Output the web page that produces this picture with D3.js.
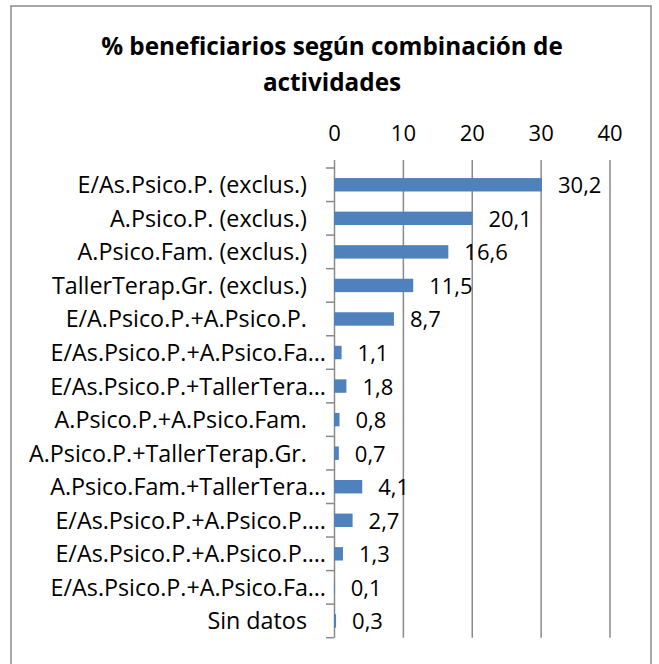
<!DOCTYPE html>
<html><head><meta charset="utf-8">
<script src="https://cdn.jsdelivr.net/npm/d3@7"></script>
<style>body{margin:0;background:#fff}</style>
</head><body>
<script>
const categories = [
  "E/As.Psico.P. (exclus.)",
  "A.Psico.P. (exclus.)",
  "A.Psico.Fam. (exclus.)",
  "TallerTerap.Gr. (exclus.)",
  "E/A.Psico.P.+A.Psico.P.",
  "E/As.Psico.P.+A.Psico.Fa…",
  "E/As.Psico.P.+TallerTera…",
  "A.Psico.P.+A.Psico.Fam.",
  "A.Psico.P.+TallerTerap.Gr.",
  "A.Psico.Fam.+TallerTera…",
  "E/As.Psico.P.+A.Psico.P.…",
  "E/As.Psico.P.+A.Psico.P.…",
  "E/As.Psico.P.+A.Psico.Fa…",
  "Sin datos"
];
const values = [30.2, 20.1, 16.6, 11.5, 8.7, 1.1, 1.8, 0.8, 0.7, 4.1, 2.7, 1.3, 0.1, 0.3];
const xTicks = [0, 10, 20, 30, 40];
const titleLines = ["% beneficiarios según combinación de", "actividades"];

(function () {
const W = 659, H = 664;
const font = "'Open Sans', sans-serif";
const svg = d3.select("body").append("svg").attr("width", W).attr("height", H);

svg.append("rect").attr("x", 11).attr("y", 6).attr("width", 640).attr("height", H + 10)
  .attr("fill", "#fff").attr("stroke", "#8a8a8a").attr("stroke-width", 1.5);

const pL = 334, pR = 609.5, pT = 168, pB = 637.7;
const x = d3.scaleLinear().domain([0, 40]).range([pL, pR]);
const idx = categories.map((d, i) => i);
const y = d3.scaleBand().domain(idx).range([pT, pB]).paddingInner(0.6).paddingOuter(0.3);
const yb = d3.scaleBand().domain(idx).range([pT, pB]);

svg.append("g").selectAll("text").data(titleLines).join("text")
  .attr("x", 332).attr("y", (d, i) => 54.5 + i * 36)
  .attr("text-anchor", "middle").attr("font-family", font).attr("font-weight", "bold")
  .attr("font-size", 24.3).attr("fill", "#000").text(d => d);

const gx = svg.append("g").attr("transform", `translate(0,${pT})`)
  .call(d3.axisTop(x).tickValues(xTicks).tickSize(-(pB - pT)).tickSizeOuter(0).tickPadding(27));
gx.select(".domain").remove();
gx.selectAll(".tick line").attr("stroke", "#8a8a8a").attr("stroke-width", 1.5).attr("y1", -8);
gx.selectAll(".tick text").attr("font-family", font).attr("font-size", 22).attr("fill", "#000");

svg.append("g").selectAll("line").data(d3.range(categories.length + 1)).join("line")
  .attr("x1", pL - 8).attr("x2", pL)
  .attr("y1", d => pT + d * yb.step()).attr("y2", d => pT + d * yb.step())
  .attr("stroke", "#8a8a8a").attr("stroke-width", 1.5);

svg.append("g").selectAll("text").data(categories).join("text")
  .attr("x", d => d.endsWith("…") ? 326 : 307)
  .attr("y", (d, i) => yb(i) + yb.bandwidth() / 2 + 8.5)
  .attr("text-anchor", "end").attr("font-family", font).attr("font-size", 23.3)
  .attr("fill", "#000").text(d => d);

svg.append("g").selectAll("rect").data(values).join("rect")
  .attr("x", x(0)).attr("y", (d, i) => y(i))
  .attr("width", d => x(d) - x(0)).attr("height", y.bandwidth())
  .attr("fill", "#4F81BD");

svg.append("g").selectAll("text").data(values).join("text")
  .attr("x", d => x(d) + 16)
  .attr("y", (d, i) => yb(i) + yb.bandwidth() / 2 + 8.5)
  .attr("font-family", font).attr("font-size", 22).attr("fill", "#000")
  .text(d => d.toFixed(1).replace(".", ","));
})();
</script>
</body></html>
